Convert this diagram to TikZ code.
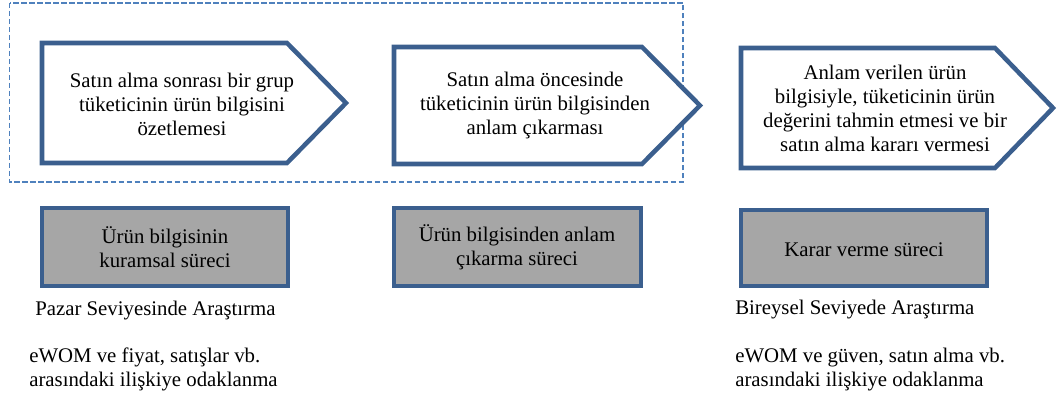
\documentclass[tikz,border=0pt]{standalone}
\usepackage{fontspec}
\setmainfont{Liberation Serif}
\definecolor{frame}{HTML}{3B5F8E}
\definecolor{dashc}{HTML}{4F81BD}
\definecolor{boxfill}{HTML}{A6A6A6}
\tikzset{
  txt/.style={align=center, font=\fontsize{15.6}{18}\selectfont, inner sep=0pt},
  ltxt/.style={align=left, font=\fontsize{15.6}{18}\selectfont, inner sep=0pt},
  penta/.style={draw=frame, line width=3.4pt, fill=white, line join=miter},
  graybox/.style={draw=frame, line width=3.4pt, fill=boxfill},
  grp/.style={draw=dashc, line width=1.1pt, dash pattern=on 3.8pt off 2.2pt}
}
\begin{document}
\begin{tikzpicture}[x=0.75pt,y=-0.75pt]
\useasboundingbox (0,0) rectangle (1057,398);
% dashed group
\draw[grp] (9.5,3) rectangle (683,182);
% pentagons
\draw[penta] (42,43) -- (287,43) -- (346,103) -- (287,163) -- (42,163) -- cycle;
\draw[penta] (394,47) -- (642,47) -- (700,105.5) -- (642,164) -- (394,164) -- cycle;
\draw[penta] (741,48) -- (995,48) -- (1053,108) -- (995,168) -- (741,168) -- cycle;
\node[txt] (t1) at (182,104) {Satın alma sonrası bir grup\\tüketicinin ürün bilgisini\\özetlemesi};
\node[txt] (t2) at (535,106) {Satın alma öncesinde\\tüketicinin ürün bilgisinden\\anlam çıkarması};
\node[txt] (t3) at (885,108.5) {Anlam verilen ürün\\bilgisiyle, tüketicinin ürün\\değerini tahmin etmesi ve bir\\satın alma kararı vermesi};
% gray boxes
\draw[graybox] (42,208) rectangle (288,286);
\draw[graybox] (394,208) rectangle (641,286);
\draw[graybox] (741,210) rectangle (987,286);
\node[txt] (b1) at (165,247.5) {Ürün bilgisinin\\kuramsal süreci};
\node[txt] (b2) at (517,247.5) {Ürün bilgisinden anlam\\çıkarma süreci};
\node[txt] (b3) at (864,250) {Karar verme süreci};
% bottom texts
\node[ltxt, anchor=base west] (l1) at (35,315.5) {Pazar Seviyesinde Araştırma};
\node[ltxt, anchor=base west] (l2) at (29,363) {eWOM ve fiyat, satışlar vb.};
\node[ltxt, anchor=base west] (l3) at (29,387) {arasındaki ilişkiye odaklanma};
\node[ltxt, anchor=base west] (r1) at (735,315) {Bireysel Seviyede Araştırma};
\node[ltxt, anchor=base west] (r2) at (735,363) {eWOM ve güven, satın alma vb.};
\node[ltxt, anchor=base west] (r3) at (735,387) {arasındaki ilişkiye odaklanma};
\end{tikzpicture}
\end{document}
